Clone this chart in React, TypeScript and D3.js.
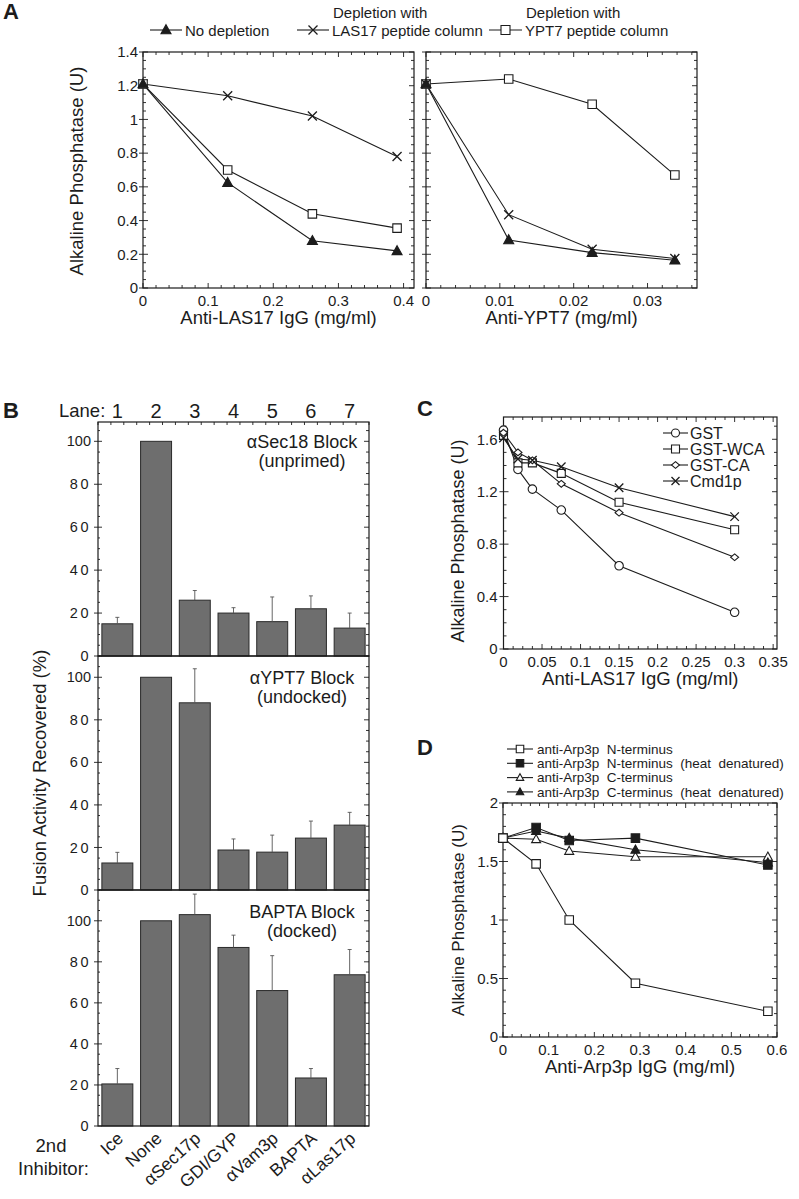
import React, { useEffect, useRef } from "react";
import * as d3 from "d3";

const FONT = "'Liberation Sans', Arial, Helvetica, sans-serif";
const INK = "#1c1c1c";

// ---- panel A: anti-LAS17 / anti-YPT7 titrations ----
const aLasDose = [0, 0.13, 0.26, 0.39];
const aYptDose = [0, 0.0112, 0.0225, 0.0337];
const aLasNoDepletion = [1.21, 0.625, 0.28, 0.22];
const aLasLasDepleted = [1.21, 1.14, 1.02, 0.78];
const aLasYptDepleted = [1.21, 0.70, 0.44, 0.355];
const aYptNoDepletion = [1.21, 0.285, 0.21, 0.165];
const aYptLasDepleted = [1.21, 0.435, 0.23, 0.175];
const aYptYptDepleted = [1.21, 1.24, 1.09, 0.67];

// ---- panel B: fusion activity recovered ----
const bLanes = ["1", "2", "3", "4", "5", "6", "7"];
const bInhibitors = ["Ice", "None", "αSec17p", "GDI/GYP", "αVam3p", "BAPTA", "αLas17p"];
const bSec18 = [15, 100, 26, 20, 16, 22, 13];
const bSec18Err = [3, 0, 4.5, 2.5, 11.5, 6, 7];
const bYpt7 = [12.7, 100, 88, 18.8, 17.8, 24.4, 30.5];
const bYpt7Err = [5, 0, 16, 5.2, 8, 8, 6];
const bBapta = [20.5, 100, 103, 87, 66, 23.4, 73.7];
const bBaptaErr = [7.5, 0, 10, 6, 17, 4.6, 12.3];

// ---- panel C ----
const cDose = [0, 0.01875, 0.0375, 0.075, 0.15, 0.3];
const cGST = [1.67, 1.37, 1.22, 1.06, 0.635, 0.28];
const cGSTWCA = [1.63, 1.42, 1.42, 1.34, 1.12, 0.91];
const cGSTCA = [1.65, 1.50, 1.44, 1.26, 1.04, 0.70];
const cCmd1p = [1.61, 1.45, 1.44, 1.39, 1.23, 1.01];
const cLegend = ["GST", "GST-WCA", "GST-CA", "Cmd1p"];

// ---- panel D ----
const dDose = [0, 0.0725, 0.145, 0.29, 0.58];
const dNterm = [1.70, 1.48, 1.0, 0.46, 0.22];
const dNtermHeat = [1.70, 1.79, 1.68, 1.70, 1.47];
const dCterm = [1.70, 1.69, 1.59, 1.54, 1.54];
const dCtermHeat = [1.70, 1.76, 1.70, 1.60, 1.49];
const dLegend = [
  "anti-Arp3p  N-terminus",
  "anti-Arp3p  N-terminus  (heat  denatured)",
  "anti-Arp3p  C-terminus",
  "anti-Arp3p  C-terminus  (heat  denatured)",
];

const steps = (max: number, step: number) =>
  d3.range(Math.floor(max / step + 1e-6) + 1).map((i) => +(i * step).toFixed(6));
const fmt = (d: number) => String(+d.toFixed(3));

function marker(g: any, kind: string, cx: number, cy: number, s: number) {
  const h = s / 2;
  if (kind === "x") {
    g.append("path")
      .attr("d", `M${cx - h},${cy - h}L${cx + h},${cy + h}M${cx - h},${cy + h}L${cx + h},${cy - h}`)
      .attr("stroke", INK)
      .attr("stroke-width", 1.3)
      .attr("fill", "none");
    return;
  }
  let d = "";
  if (kind.startsWith("tri")) d = `M${cx},${cy - h * 1.05}L${cx + h},${cy + h * 0.75}L${cx - h},${cy + h * 0.75}Z`;
  else if (kind.startsWith("sq")) d = `M${cx - h},${cy - h}h${s}v${s}h${-s}Z`;
  else if (kind === "diamond") d = `M${cx},${cy - h * 0.85}L${cx + h},${cy}L${cx},${cy + h * 0.85}L${cx - h},${cy}Z`;
  else d = d3.arc()({ innerRadius: 0, outerRadius: h, startAngle: 0, endAngle: 2 * Math.PI }) as string;
  const p = g.append("path").attr("d", d).attr("stroke", INK).attr("stroke-width", 1.1)
    .attr("fill", kind.endsWith("Fill") ? INK : "white");
  if (kind === "circle") p.attr("transform", `translate(${cx},${cy})`);
}

function frame(g: any, x: any, y: any, o: any) {
  const [x0, x1] = x.range();
  const [y0, y1] = y.range();
  const t = g.append("g").attr("stroke", INK).attr("stroke-width", 0.9);
  const xd = x.domain()[1];
  const yd = y.domain()[1];
  steps(xd, o.xMinor).forEach((v: number) => {
    const len = Math.abs(v / o.xMajor - Math.round(v / o.xMajor)) < 1e-6 ? 5 : 3;
    t.append("line").attr("x1", x(v)).attr("x2", x(v)).attr("y1", y0).attr("y2", y0 - len);
    t.append("line").attr("x1", x(v)).attr("x2", x(v)).attr("y1", y1).attr("y2", y1 + len);
  });
  steps(yd, o.yMinor).forEach((v: number) => {
    const major = Math.abs(v / o.yMajor - Math.round(v / o.yMajor)) < 1e-6;
    const len = major ? 5 : 3;
    t.append("line").attr("y1", y(v)).attr("y2", y(v)).attr("x1", x0 - (major ? 4 : 0)).attr("x2", x0 + len);
    t.append("line").attr("y1", y(v)).attr("y2", y(v)).attr("x1", x1).attr("x2", x1 - len);
  });
  g.append("rect").attr("x", x0).attr("y", y1).attr("width", x1 - x0).attr("height", y0 - y1)
    .attr("fill", "none").attr("stroke", INK).attr("stroke-width", 1.2);
  if (o.yLabels) {
    steps(yd, o.yMajor).forEach((v: number) => {
      g.append("text").attr("x", x0 - o.yLabelGap).attr("y", y(v)).attr("dy", "0.35em")
        .attr("text-anchor", "end").attr("font-size", 15).text(fmt(v));
    });
  }
  steps(xd, o.xMajor).forEach((v: number) => {
    g.append("text").attr("x", x(v)).attr("y", y0 + 17.5).attr("text-anchor", "middle")
      .attr("font-size", 15).text(fmt(v));
  });
}

function linePanel(root: any, p: any) {
  const x = d3.scaleLinear().domain(p.xDomain).range([p.left, p.right]);
  const y = d3.scaleLinear().domain(p.yDomain).range([p.bottom, p.top]);
  const g = root.append("g");
  frame(g, x, y, p);
  const line = d3.line<[number, number]>().x((d) => x(d[0])).y((d) => y(d[1]));
  p.series.forEach((s: any) => {
    g.append("path").attr("d", line(s.ys.map((v: number, i: number) => [s.xs[i], v])))
      .attr("fill", "none").attr("stroke", INK).attr("stroke-width", 1.1);
  });
  p.series.forEach((s: any) => s.ys.forEach((v: number, i: number) => marker(g, s.marker, x(s.xs[i]), y(v), s.size)));
  if (p.xTitle) {
    g.append("text").attr("x", (p.left + p.right) / 2).attr("y", p.bottom + 36)
      .attr("text-anchor", "middle").attr("font-size", 18.5).text(p.xTitle);
  }
  return { x, y };
}

function barPanel(root: any, p: any) {
  const x = d3.scaleBand().domain(bInhibitors).range([98, 369]).paddingInner(0.2).paddingOuter(0.1);
  const y = d3.scaleLinear().domain([0, p.max]).range([p.bottom, p.top]);
  const g = root.append("g");
  g.selectAll("rect.bar").data(p.values).enter().append("rect")
    .attr("x", (_: any, i: number) => x(bInhibitors[i]))
    .attr("y", (d: number) => y(d))
    .attr("width", x.bandwidth())
    .attr("height", (d: number) => y(0) - y(d))
    .attr("fill", "#6e6e6e").attr("stroke", "#2a2a2a").attr("stroke-width", 1);
  p.values.forEach((v: number, i: number) => {
    const e = p.errors[i];
    if (!e) return;
    const cx = x(bInhibitors[i])! + x.bandwidth() / 2;
    g.append("line").attr("x1", cx).attr("x2", cx).attr("y1", y(v)).attr("y2", y(v + e))
      .attr("stroke", "#555").attr("stroke-width", 0.9);
    g.append("line").attr("x1", cx - 2).attr("x2", cx + 2).attr("y1", y(v + e)).attr("y2", y(v + e))
      .attr("stroke", "#555").attr("stroke-width", 0.9);
  });
  const t = g.append("g").attr("stroke", INK).attr("stroke-width", 0.9);
  steps(p.max, 5).forEach((v: number) => {
    const major = v % 20 === 0;
    t.append("line").attr("y1", y(v)).attr("y2", y(v)).attr("x1", 98 - (major ? 4 : 0)).attr("x2", 98 + (major ? 4 : 2));
    t.append("line").attr("y1", y(v)).attr("y2", y(v)).attr("x1", 369).attr("x2", 369 - (major ? 5 : 3));
    if (major) {
      g.append("text").attr("x", 91).attr("y", y(v)).attr("dy", "0.35em").attr("text-anchor", "end")
        .attr("font-size", 14.5).attr("letter-spacing", v === 100 ? 0 : 2.5).text(String(v));
    }
  });
  if (p.topTicks) {
    d3.range(22).forEach((i) => {
      const tx = 98 + (i * 271) / 21;
      t.append("line").attr("x1", tx).attr("x2", tx).attr("y1", p.top).attr("y2", p.top + 3);
    });
  }
  g.append("rect").attr("x", 98).attr("y", p.top).attr("width", 271).attr("height", p.bottom - p.top)
    .attr("fill", "none").attr("stroke", INK).attr("stroke-width", 1.2);
  p.label.forEach((s: string, i: number) => {
    g.append("text").attr("x", 302).attr("y", p.top + p.labelY + i * 18.5).attr("text-anchor", "middle")
      .attr("font-size", 18).text(s);
  });
  return x;
}

export default function App() {
  const ref = useRef<SVGSVGElement>(null);

  useEffect(() => {
    const svg = d3.select(ref.current);
    svg.selectAll("*").remove();
    const root = svg.append("g").attr("font-family", FONT).attr("fill", INK);

    const letter = (s: string, x: number, y: number) =>
      root.append("text").attr("x", x).attr("y", y).attr("font-size", 22).attr("font-weight", "bold").text(s);

    // ---------- A ----------
    letter("A", 3, 19);
    const aOpts = { top: 52, bottom: 288, yDomain: [0, 1.4], yMajor: 0.2, yMinor: 0.05, yLabelGap: 5 };
    linePanel(root, {
      ...aOpts, left: 143, right: 414, xDomain: [0, 0.416], xMajor: 0.1, xMinor: 0.02, yLabels: true,
      xTitle: "Anti-LAS17 IgG (mg/ml)",
      series: [
        { xs: aLasDose, ys: aLasLasDepleted, marker: "x", size: 9 },
        { xs: aLasDose, ys: aLasYptDepleted, marker: "sq", size: 8.5 },
        { xs: aLasDose, ys: aLasNoDepletion, marker: "triFill", size: 10 },
      ],
    });
    linePanel(root, {
      ...aOpts, left: 426, right: 697, xDomain: [0, 0.0367], xMajor: 0.01, xMinor: 0.002, yLabels: false,
      xTitle: "Anti-YPT7 (mg/ml)",
      series: [
        { xs: aYptDose, ys: aYptYptDepleted, marker: "sq", size: 8.5 },
        { xs: aYptDose, ys: aYptLasDepleted, marker: "x", size: 9 },
        { xs: aYptDose, ys: aYptNoDepletion, marker: "triFill", size: 10 },
      ],
    });
    root.append("text").attr("x", 77).attr("y", 171).attr("transform", "rotate(-90 77 171)")
      .attr("dy", "0.35em").attr("text-anchor", "middle").attr("font-size", 18.5).text("Alkaline Phosphatase (U)");

    const aLegend = [
      { x1: 150, x2: 182, m: "triFill", text: "No depletion", top: "" },
      { x1: 297, x2: 329, m: "x", text: "LAS17 peptide column", top: "Depletion with" },
      { x1: 489, x2: 522, m: "sq", text: "YPT7 peptide column", top: "Depletion with" },
    ];
    aLegend.forEach((l) => {
      root.append("line").attr("x1", l.x1).attr("x2", l.x2).attr("y1", 30).attr("y2", 30)
        .attr("stroke", INK).attr("stroke-width", 1.1);
      marker(root, l.m, (l.x1 + l.x2) / 2, 30, l.m === "triFill" ? 10 : 9);
      root.append("text").attr("x", l.x2 + 3).attr("y", 35.5).attr("font-size", 15).text(l.text);
      if (l.top) root.append("text").attr("x", l.x2 + 4).attr("y", 17.5).attr("font-size", 15).text(l.top);
    });

    // ---------- B ----------
    letter("B", 3, 418);
    root.append("text").attr("x", 59).attr("y", 417).attr("font-size", 18.5).text("Lane:");
    const bx = barPanel(root, {
      top: 422, bottom: 656, max: 109, values: bSec18, errors: bSec18Err,
      label: ["αSec18 Block", "(unprimed)"], labelY: 26, topTicks: true,
    });
    barPanel(root, {
      top: 656, bottom: 890, max: 110, values: bYpt7, errors: bYpt7Err,
      label: ["αYPT7 Block", "(undocked)"], labelY: 28, topTicks: false,
    });
    barPanel(root, {
      top: 890, bottom: 1126, max: 115, values: bBapta, errors: bBaptaErr,
      label: ["BAPTA Block", "(docked)"], labelY: 28, topTicks: false,
    });
    bLanes.forEach((s, i) => {
      root.append("text").attr("x", bx(bInhibitors[i])! + bx.bandwidth() / 2).attr("y", 418)
        .attr("text-anchor", "middle").attr("font-size", 20).text(s);
    });
    bInhibitors.forEach((s) => {
      const cx = bx(s)! + bx.bandwidth() / 2 + 7;
      root.append("text").attr("x", cx).attr("y", 1140).attr("transform", `rotate(-42 ${cx} 1140)`)
        .attr("text-anchor", "end").attr("font-size", 17.5).text(s);
    });
    root.append("text").attr("x", 40).attr("y", 773).attr("transform", "rotate(-90 40 773)")
      .attr("dy", "0.35em").attr("text-anchor", "middle").attr("font-size", 18.5).text("Fusion Activity Recovered (%)");
    root.append("text").attr("x", 51).attr("y", 1152).attr("text-anchor", "middle").attr("font-size", 18.5).text("2nd");
    root.append("text").attr("x", 18).attr("y", 1175).attr("font-size", 18.5).text("Inhibitor:");

    // ---------- C ----------
    letter("C", 417, 416);
    linePanel(root, {
      top: 417, bottom: 649, left: 503.5, right: 777, yDomain: [0, 1.77], xDomain: [0, 0.355],
      xMajor: 0.05, xMinor: 0.0125, yMajor: 0.4, yMinor: 0.1, yLabels: true, yLabelGap: 6,
      xTitle: "Anti-LAS17 IgG (mg/ml)",
      series: [
        { xs: cDose, ys: cGST, marker: "circle", size: 8.5 },
        { xs: cDose, ys: cGSTWCA, marker: "sq", size: 8 },
        { xs: cDose, ys: cGSTCA, marker: "diamond", size: 8 },
        { xs: cDose, ys: cCmd1p, marker: "x", size: 8.5 },
      ],
    });
    root.append("text").attr("x", 458).attr("y", 541).attr("transform", "rotate(-90 458 541)")
      .attr("dy", "0.35em").attr("text-anchor", "middle").attr("font-size", 18).text("Alkaline Phosphatase (U)");
    const cMarks = ["circle", "sq", "diamond", "x"];
    cLegend.forEach((s, i) => {
      const ly = 433 + i * 16;
      root.append("line").attr("x1", 663).attr("x2", 688).attr("y1", ly).attr("y2", ly).attr("stroke", INK).attr("stroke-width", 1.1);
      marker(root, cMarks[i], 675.5, ly, 8);
      root.append("text").attr("x", 690).attr("y", ly).attr("dy", "0.36em").attr("font-size", 16).text(s);
    });

    // ---------- D ----------
    letter("D", 417, 755);
    linePanel(root, {
      top: 803, bottom: 1037, left: 503, right: 777, yDomain: [0, 2], xDomain: [0, 0.6],
      xMajor: 0.1, xMinor: 0.02, yMajor: 0.5, yMinor: 0.1, yLabels: true, yLabelGap: 5,
      xTitle: "Anti-Arp3p IgG (mg/ml)",
      series: [
        { xs: dDose, ys: dCterm, marker: "tri", size: 9 },
        { xs: dDose, ys: dCtermHeat, marker: "triFill", size: 9 },
        { xs: dDose, ys: dNtermHeat, marker: "sqFill", size: 8.5 },
        { xs: dDose, ys: dNterm, marker: "sq", size: 8.5 },
      ],
    });
    root.append("text").attr("x", 458).attr("y", 920).attr("transform", "rotate(-90 458 920)")
      .attr("dy", "0.35em").attr("text-anchor", "middle").attr("font-size", 17).text("Alkaline Phosphatase (U)");
    const dMarks = ["sq", "sqFill", "tri", "triFill"];
    dLegend.forEach((s, i) => {
      const ly = 749 + i * 14.3;
      root.append("line").attr("x1", 507).attr("x2", 533).attr("y1", ly).attr("y2", ly).attr("stroke", INK).attr("stroke-width", 1.1);
      marker(root, dMarks[i], 520, ly, 7.5);
      root.append("text").attr("x", 537).attr("y", ly).attr("dy", "0.36em").attr("font-size", 13.5)
        .attr("xml:space", "preserve").style("white-space", "pre").text(s);
    });
  }, []);

  return (
    <svg
      ref={ref}
      width={799}
      height={1199}
      style={{ position: "absolute", left: 0, top: 0, background: "white" }}
    />
  );
}
